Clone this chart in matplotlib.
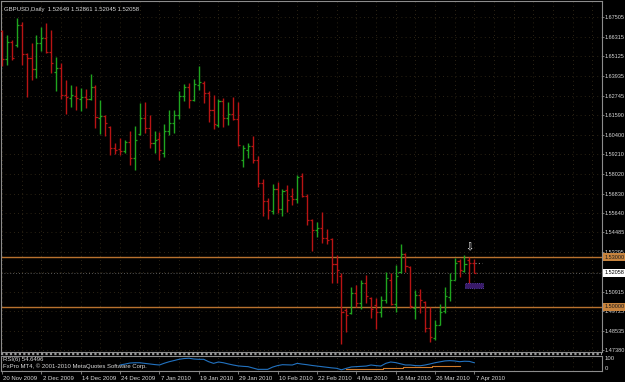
import numpy as np
import matplotlib
matplotlib.use('Agg')
import matplotlib.pyplot as plt
from matplotlib.patches import Rectangle
from matplotlib.lines import Line2D
from matplotlib.transforms import ScaledTranslation

#Daily GBPUSD bars, 20 Nov 2009 .. 7 Apr 2010
opens = [1.6666,1.6497,1.6600,1.6582,1.6702,1.6527,1.6503,1.6436,1.6594,1.6624,
         1.6539,1.6418,1.6442,1.6279,1.6261,1.6273,1.6255,1.6267,1.6255,1.6327,
         1.6140,1.6152,1.6086,1.5959,1.5953,1.5941,1.5995,1.5898,1.6043,1.6140,
         1.6080,1.5989,1.6013,1.5929,1.6062,1.6110,1.6158,1.6273,1.6327,1.6249,
         1.6339,1.6351,1.6291,1.6189,1.6098,1.6243,1.6140,1.6164,1.6134,1.5886,
         1.5947,1.5971,1.5886,1.5747,1.5639,1.5578,1.5711,1.5590,1.5705,1.5669,
         1.5651,1.5790,1.5669,1.5524,1.5464,1.5476,1.5415,1.5409,1.5258,1.5185,
         1.4980,1.4962,1.5082,1.5022,1.5143,1.5052,1.5010,1.4968,1.5040,1.5161,
         1.5016,1.5209,1.5318,1.5240,1.4992,1.5070,1.5028,1.4871,1.4811,1.4890,
         1.4974,1.5058,1.5161,1.5276,1.5216,1.5282,1.52649]
highs = [1.6672,1.6642,1.6612,1.6744,1.6720,1.6533,1.6594,1.6642,1.6690,1.6714,
         1.6672,1.6509,1.6473,1.6370,1.6339,1.6333,1.6321,1.6315,1.6406,1.6339,
         1.6249,1.6158,1.6092,1.5989,1.6019,1.6007,1.6062,1.6092,1.6231,1.6237,
         1.6158,1.6062,1.6056,1.6104,1.6189,1.6189,1.6303,1.6345,1.6351,1.6376,
         1.6454,1.6364,1.6303,1.6279,1.6255,1.6261,1.6237,1.6267,1.6237,1.5977,
         1.5989,1.6031,1.5910,1.5772,1.5657,1.5741,1.5753,1.5711,1.5735,1.5717,
         1.5796,1.5808,1.5681,1.5530,1.5512,1.5572,1.5470,1.5415,1.5312,1.5203,
         1.4992,1.5119,1.5131,1.5161,1.5191,1.5058,1.5052,1.5064,1.5209,1.5203,
         1.5251,1.5379,1.5324,1.5246,1.5101,1.5107,1.5034,1.4998,1.4919,1.5016,
         1.5119,1.5203,1.5294,1.5288,1.5312,1.5300,1.52861]
lows = [1.6455,1.6461,1.6491,1.6570,1.6461,1.6267,1.6370,1.6382,1.6545,1.6533,
        1.6412,1.6303,1.6255,1.6165,1.6207,1.6189,1.6183,1.6201,1.6249,1.6080,
        1.6044,1.6032,1.5919,1.5923,1.5919,1.5929,1.5856,1.5826,1.6037,1.6049,
        1.5959,1.5929,1.5886,1.5904,1.6037,1.6049,1.6134,1.6243,1.6201,1.6243,
        1.6309,1.6231,1.6116,1.6074,1.6086,1.6086,1.6098,1.6128,1.5971,1.5844,
        1.5898,1.5868,1.5723,1.5548,1.5530,1.5560,1.5566,1.5548,1.5572,1.5614,
        1.5627,1.5663,1.5494,1.5337,1.5421,1.5385,1.5379,1.5143,1.5143,1.4775,
        1.4847,1.4956,1.4998,1.4986,1.5022,1.4932,1.4865,1.4938,1.5022,1.5010,
        1.4968,1.5203,1.5209,1.4992,1.4925,1.4962,1.4847,1.4787,1.4799,1.4890,
        1.4962,1.5034,1.5161,1.5179,1.5209,1.5119,1.52045]
closes = [1.6497,1.6600,1.6503,1.6702,1.6527,1.6503,1.6436,1.6594,1.6624,1.6539,
          1.6473,1.6442,1.6279,1.6267,1.6279,1.6261,1.6267,1.6255,1.6327,1.6146,
          1.6152,1.6110,1.5959,1.5947,1.5941,1.5995,1.5898,1.6007,1.6140,1.6080,
          1.5989,1.6007,1.5947,1.6062,1.6110,1.6158,1.6273,1.6327,1.6249,1.6345,
          1.6358,1.6291,1.6189,1.6104,1.6243,1.6140,1.6164,1.6134,1.5977,1.5959,
          1.5971,1.5886,1.5747,1.5639,1.5584,1.5711,1.5590,1.5699,1.5645,1.5651,
          1.5784,1.5669,1.5524,1.5464,1.5476,1.5415,1.5403,1.5258,1.5222,1.4968,
          1.4950,1.5082,1.5022,1.5143,1.5064,1.4986,1.4968,1.5040,1.5173,1.5016,
          1.5185,1.5318,1.5246,1.5004,1.5070,1.5040,1.4871,1.4817,1.4890,1.4968,
          1.5064,1.5161,1.5264,1.5222,1.5258,1.5265,1.52058]

#RSI(6) sub window, starts at bar 24
rsi_start = 24
rsi_vals = [40,46,53,55,55,51,47,43,40,52,62,70,78,83,85,80,78,78,62,51,
            60,55,47,40,34,31,29,20,11,11,11,26,36,42,41,40,51,46,42,37,
            33,29,25,21,18,8,18,27,29,31,33,40,36,33,51,60,56,48,40,40,
            36,35,40,47,55,61,67,69,67,62,65,64,55]
#orange line in the RSI window
orange_start = 70
orange_vals = [11,11,12,13,14,15,15,16,18,20,20,23,25,25,26,28,29,30,33,33,34,34,35,35]

price_ticks = [1.67505,1.66315,1.65125,1.63935,1.62745,1.61590,1.60400,1.59210,1.58020,
               1.56830,1.55640,1.54485,1.53295,1.52105,1.50915,1.49725,1.48535,1.47380]
date_labels = ['20 Nov 2009','2 Dec 2009','14 Dec 2009','24 Dec 2009','7 Jan 2010',
               '19 Jan 2010','29 Jan 2010','10 Feb 2010','22 Feb 2010','4 Mar 2010',
               '16 Mar 2010','26 Mar 2010','7 Apr 2010']
levels = [1.53000, 1.50000]
bid = 1.52058
symbol_text = 'GBPUSD,Daily  1.52649 1.52861 1.52045 1.52058'

#colours
bg = '#000000'
up_col = '#1fa51f'
dn_col = '#b81414'
grid_col = '#3a301c'
frame_col = '#8c8c8c'
txt_col = '#d8d8d8'
lvl_col = '#b8722e'
fs = 4.3
fs_scale = 4.0

plt.rcParams['font.family'] = ['Liberation Sans', 'DejaVu Sans']

W, H = 625, 382
fig = plt.figure(figsize=(W / 100, H / 100), dpi=100, facecolor=bg)

def box(x0, y0, x1, y1):
    #pixel box (top-left origin) -> figure fraction
    return [x0 / W, 1 - y1 / H, (x1 - x0) / W, (y1 - y0) / H]

ax = fig.add_axes(box(1, 1, 602, 352), facecolor=bg)
rsi = fig.add_axes(box(1, 356, 602, 371), facecolor=bg)

n = len(opens)
idx = np.arange(n)
o = np.array(opens); h = np.array(highs); l = np.array(lows); c = np.array(closes)
cols = np.where(c >= o, up_col, dn_col)

#grid
xgrid = np.arange(0, 124, 4)
for a in (ax, rsi):
    for g in xgrid:
        a.axvline(g, color=grid_col, lw=0.6, ls=(0, (1, 4)), zorder=0)
for p in price_ticks:
    ax.axhline(p, color=grid_col, lw=0.6, ls=(0, (1, 4)), zorder=0)

#OHLC bars
tw = 0.42
ax.vlines(idx, l, h, colors=cols, lw=1.0, zorder=3)
ax.hlines(o, idx - tw, idx, colors=cols, lw=0.9, zorder=3)
ax.hlines(c, idx, idx + tw, colors=cols, lw=0.9, zorder=3)

#horizontal levels and bid line
for lv in levels:
    ax.axhline(lv, color=lvl_col, lw=1.0, zorder=2)
ax.axhline(bid, color='#5a5a5a', lw=0.7, ls=(0, (1, 2)), zorder=2)
ax.hlines(1.5264, 96.2, 97.6, colors='#8a8a8a', lw=0.8, ls=(0, (1, 2)), zorder=3)

#arrow marker and small price label object
ax.text(95, 1.5361, '\u21e9', color='white', fontsize=7, ha='center', va='center',
        family='DejaVu Sans', zorder=4)
ax.add_patch(Rectangle((94.1, 1.5113), 3.7, 0.0030, facecolor='#3a1a6a',
                       edgecolor='#6a50d0', lw=0.6, ls=':', zorder=4))

ax.set_xlim(-0.2, 121.95)
ax.set_ylim(1.47263, 1.68472)
rsi.set_xlim(-0.2, 121.95)
rsi.set_ylim(0, 100)

#price scale on the right
ax.yaxis.tick_right()
ax.set_yticks(price_ticks)
ax.set_yticklabels(['%.5f' % p for p in price_ticks])
ax.tick_params(axis='y', length=1.2, width=0.6, color=frame_col, labelsize=fs_scale,
               labelcolor=txt_col, pad=0.5)
ax.set_xticks([])

#highlighted labels on the scale
tr = ax.get_yaxis_transform()
for lv in levels:
    ax.text(1.004, lv, '%.5f' % lv, transform=tr, ha='left', va='center', fontsize=fs_scale,
            color='#1a1a1a', clip_on=False, zorder=5,
            bbox=dict(boxstyle='square,pad=0.25', fc='#c8843e', ec='none'))
ax.text(1.004, bid, '%.5f' % bid, transform=tr, ha='left', va='center', fontsize=fs_scale,
        color='#000000', clip_on=False, zorder=5,
        bbox=dict(boxstyle='square,pad=0.25', fc='white', ec='none'))

#RSI window
rsi.plot(np.arange(rsi_start, rsi_start + len(rsi_vals)), rsi_vals, color='#2272c0', lw=0.8)
rsi.plot(np.arange(orange_start, orange_start + len(orange_vals)), orange_vals,
         color='#d07a2a', lw=0.8, drawstyle='steps-mid')
rsi.set_yticks([])
rsi.text(1.005, 100, '100', transform=rsi.get_yaxis_transform(), va='top', ha='left',
         fontsize=fs, color=txt_col, clip_on=False)
rsi.text(1.005, 0, '0', transform=rsi.get_yaxis_transform(), va='bottom', ha='left',
         fontsize=fs, color=txt_col, clip_on=False)

#time scale
rsi.set_xticks(np.arange(0, 97, 8))
rsi.set_xticklabels(date_labels, ha='left')
rsi.tick_params(axis='x', length=2.2, width=0.6, color=frame_col, labelsize=fs,
                labelcolor=txt_col, pad=1.2)
shift = ScaledTranslation(1.2 / 100, 0, fig.dpi_scale_trans)
for lbl in rsi.get_xticklabels():
    lbl.set_transform(lbl.get_transform() + shift)

for a in (ax, rsi):
    for s in a.spines.values():
        s.set_color(frame_col)
        s.set_linewidth(0.8)

#separator between the windows
fig.add_artist(Line2D([1 / W, 602 / W], [1 - 353.5 / H] * 2, color='#9a9a9a', lw=1.6,
                      ls=(0, (1, 1))))

#texts
fig.text(4 / W, 1 - 9 / H, symbol_text, fontsize=fs, color=txt_col, va='center')
fig.text(3 / W, 1 - 360 / H, 'RSI(6) 54.6496', fontsize=fs, color=txt_col, va='center')
fig.text(3 / W, 1 - 366.5 / H, 'FxPro MT4, \u00a9 2001-2010 MetaQuotes Software Corp.',
         fontsize=fs, color=txt_col, va='center')

fig.savefig('out.png', dpi=100, facecolor=bg)
